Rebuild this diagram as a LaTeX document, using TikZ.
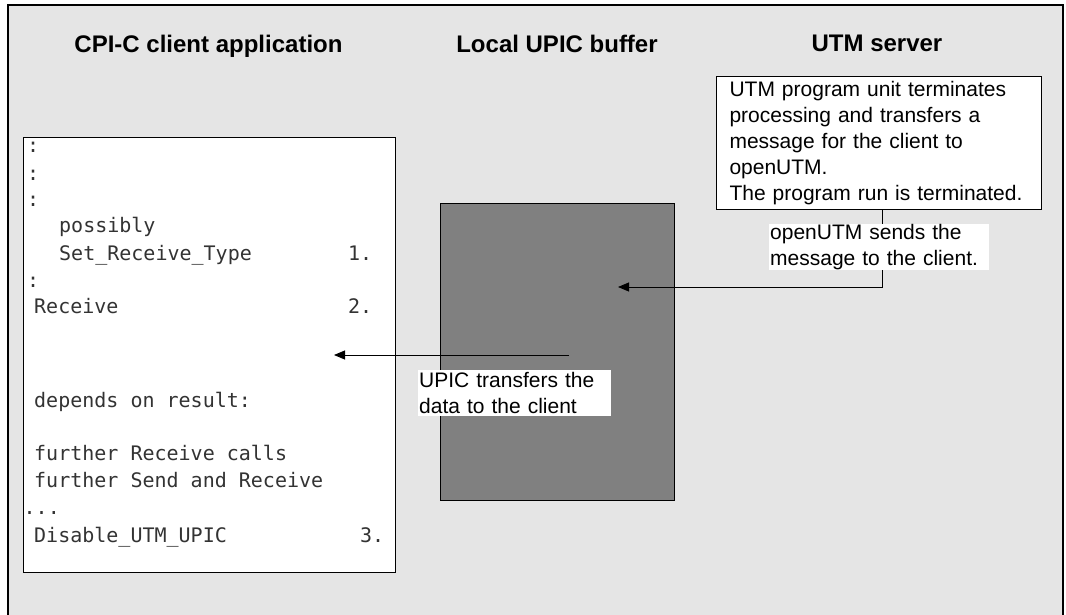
\documentclass[tikz,border=0pt]{standalone}
\usepackage{fontspec}
\setmainfont{Liberation Sans}
\newfontfamily\codefont{DejaVu Sans Mono}
\usetikzlibrary{arrows.meta}
\definecolor{panel}{HTML}{E5E5E5}
\definecolor{buffergray}{HTML}{808080}

\begin{document}
\begin{tikzpicture}[x=1pt,y=-1pt,
  title/.style={font=\fontsize{24}{28}\selectfont\bfseries, anchor=base, inner sep=0pt},
  code/.style={font=\codefont\fontsize{20}{26}\selectfont, text=black!80, anchor=base west, inner sep=0pt},
  box/.style={draw=black, line width=1pt, anchor=north west, inner sep=0pt},
  note/.style={font=\fontsize{21}{26}\selectfont, align=left, fill=white, anchor=north west, inner ysep=0pt, inner xsep=1pt, minimum height=46},
  flow/.style={line width=0.9pt, -{Triangle[length=11pt,width=9pt]}}]
\useasboundingbox (0,0) rectangle (1066,615);

% frame
\draw[line width=1.2pt, fill=panel] (8,630) -- (8,5) -- (1063,5) -- (1063,630);

% headings
\node[title] (clienttitle) at (208.5,52.7) {CPI-C client application};
\node[title] (buffertitle) at (557,53) {Local UPIC buffer};
\node[title] (servertitle) at (877,52) {UTM server};

% boxes
\node[box, fill=white, minimum width=372, minimum height=435] (client) at (23,137) {};
\node[box, fill=buffergray, minimum width=234, minimum height=297] (buffer) at (440,203) {};
\node[box, fill=white, minimum width=325, minimum height=133, text width=299, inner xsep=13pt, align=left, font=\fontsize{21}{26}\selectfont] (server) at (716,76)
  {UTM program unit terminates\\processing and transfers a\\message for the client to\\openUTM.\\The program run is terminated.};

% client program
\node[code] (c1) at (27,153) {:};
\node[code] (c2) at (27,180) {:};
\node[code] (c3) at (27,207) {:};
\node[code] (c4) at (59,233) {possibly};
\node[code] (c5) at (59,260) {Set\_Receive\_Type};
\node[code] (n1) at (348,260) {1.};
\node[code] (c6) at (27,287) {:};
\node[code] (c7) at (34,313) {Receive};
\node[code] (n2) at (348,313) {2.};
\node[code] (c8) at (34,407) {depends on result:};
\node[code] (c9) at (34,460) {further Receive calls};
\node[code] (c10) at (34,487) {further Send and Receive};
\node[code] (c11) at (23.5,514) {...};
\node[code] (c12) at (34,542) {Disable\_UTM\_UPIC};
\node[code] (n3) at (360,542) {3.};

% transfers
\coordinate (bufferin) at (618,287);
\coordinate (bufferout) at (569,355);
\coordinate (clientin) at (334,355);
\draw[flow] ([xshift=3.5pt]server.south) |- (bufferin);
\draw[flow] (bufferout) -- (clientin);

\node[note, text width=218, minimum width=220] (sendnote) at (769,224) {openUTM sends the\\message to the client.};
\node[note, text width=191, minimum width=193] (upicnote) at (418,370) {UPIC transfers the\\data to the client};
\end{tikzpicture}
\end{document}
